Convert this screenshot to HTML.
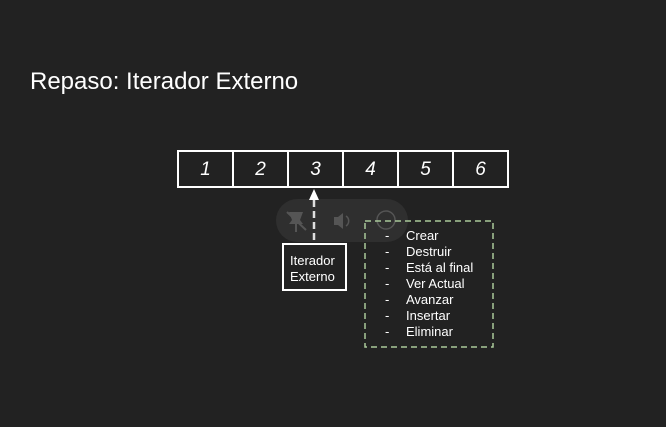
<!DOCTYPE html>
<html><head><style>
body{margin:0;width:666px;height:427px;background:#222222;position:relative;overflow:hidden;font-family:"Liberation Sans",sans-serif;color:#fff}
.t{position:absolute;left:30px;top:68px;font-size:24px}
.cell{position:absolute;top:150px;width:53px;height:34px;border:2px solid #fff;border-right:none;font-style:italic;font-size:19px;text-align:center;line-height:36px}
.pill{position:absolute;left:276px;top:199px;width:132px;height:43px;border-radius:22px;background:#2f2f2f}
.it{position:absolute;left:282px;top:243px;border:2px solid #fff;background:#222;font-size:13px;line-height:16px;padding:8px 0 0 6px;box-sizing:border-box;width:65px;height:48px}
.li{position:absolute;font-size:13px;line-height:16px}
</style></head><body>
<div class="t">Repaso: Iterador Externo</div>
<div class="cell" style="left:177px">1</div>
<div class="cell" style="left:232px">2</div>
<div class="cell" style="left:287px">3</div>
<div class="cell" style="left:342px">4</div>
<div class="cell" style="left:397px">5</div>
<div class="cell" style="left:452px;border-right:2px solid #fff">6</div>
<div class="pill"></div>
<svg style="position:absolute;left:0;top:0" width="666" height="427">
<g fill="#555" stroke="#555">
<path d="M289 212h14l-3 8 3 4h-14l3-4z" stroke="none"/>
<line x1="296" y1="224" x2="296" y2="232" stroke-width="2"/>
<line x1="287" y1="212" x2="306" y2="230" stroke-width="2"/>
<path d="M334 217h4l5-4v16l-5-4h-4z" stroke="none"/>
<path d="M346 216a6 6 0 0 1 0 10" fill="none" stroke-width="1.5"/>
<circle cx="386" cy="220" r="9" fill="none" stroke-width="1.5"/>
</g>
<line x1="314" y1="200" x2="314" y2="243" stroke="#ddd" stroke-width="2.5" stroke-dasharray="7,4"/>
<path d="M309 200l5-11 5 11z" fill="#fff"/>
<rect x="365" y="221" width="128" height="126" fill="none" stroke="#a9c99a" stroke-width="1.5" stroke-dasharray="6,4"/>
</svg>
<div class="it">Iterador<br>Externo</div>
<div class="li" style="left:385px;top:228px">-<br>-<br>-<br>-<br>-<br>-<br>-</div>
<div class="li" style="left:406px;top:228px">Crear<br>Destruir<br>Está al final<br>Ver Actual<br>Avanzar<br>Insertar<br>Eliminar</div>
</body></html>
